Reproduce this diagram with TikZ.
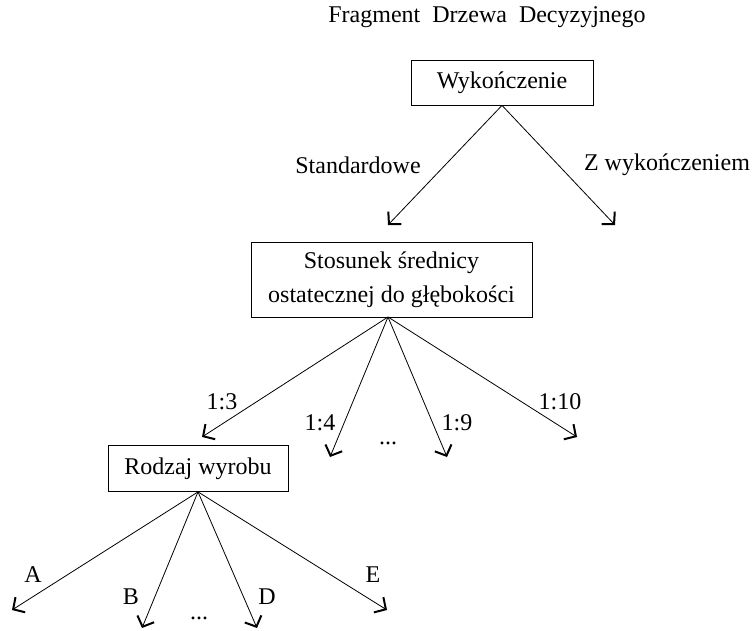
\documentclass[tikz,border=0pt]{standalone}
\usepackage{fontspec}
\setmainfont{Liberation Serif}
\usetikzlibrary{arrows.meta}
\begin{document}
\begin{tikzpicture}[x=1pt,y=-1pt,font=\fontsize{24}{34}\selectfont,
  box/.style={draw,line width=0.8pt,align=center,inner sep=0pt},
  arr/.style={line width=0.8pt,-{Straight Barb[length=8.5pt,width=18pt,line width=2pt]}}]
\useasboundingbox (0,0) rectangle (752,631);
\node (title) at (487,17) {Fragment\ \ Drzewa\ \ Decyzyjnego};
%level 1
\node[box,minimum width=182pt,minimum height=45pt] (wyk) at (502,82.5) {Wykończenie};
\coordinate (wykl) at (388,225); \coordinate (wykr) at (615,225);
\draw[arr] (wyk.south) -- (wykl);
\draw[arr] (wyk.south) -- (wykr);
\node (std) at (358,165) {Standardowe};
\node (zwyk) at (667,165) {Z wykończeniem};
%level 2
\node[box,minimum width=281pt,minimum height=75pt] (stos) at (391.5,279.5) {Stosunek średnicy\\ostatecznej do głębokości};
\coordinate (s) at (388,317);
\coordinate (s3) at (202,437); \coordinate (s4) at (330,457);
\coordinate (s9) at (447,457); \coordinate (s10) at (577,437);
\draw[arr] (s) -- (s3);
\draw[arr] (s) -- (s4);
\draw[arr] (s) -- (s9);
\draw[arr] (s) -- (s10);
\node (l3) at (222,402) {1:3};
\node (l4) at (320,423) {1:4};
\node (ldots) at (388,443) {...};
\node (l9) at (457,423) {1:9};
\node (l10) at (560,402) {1:10};
%level 3
\node[box,minimum width=180pt,minimum height=46pt] (rodz) at (198,468.5) {Rodzaj wyrobu};
\coordinate (ra) at (12,610); \coordinate (rb) at (142,628);
\coordinate (rd) at (257,628); \coordinate (re) at (387,610);
\draw[arr] (rodz.south) -- (ra);
\draw[arr] (rodz.south) -- (rb);
\draw[arr] (rodz.south) -- (rd);
\draw[arr] (rodz.south) -- (re);
\node (la) at (33,575) {A};
\node (lb) at (131,597) {B};
\node (rdots) at (199,618) {...};
\node (ld) at (267,597) {D};
\node (le) at (373,575) {E};
\end{tikzpicture}
\end{document}
